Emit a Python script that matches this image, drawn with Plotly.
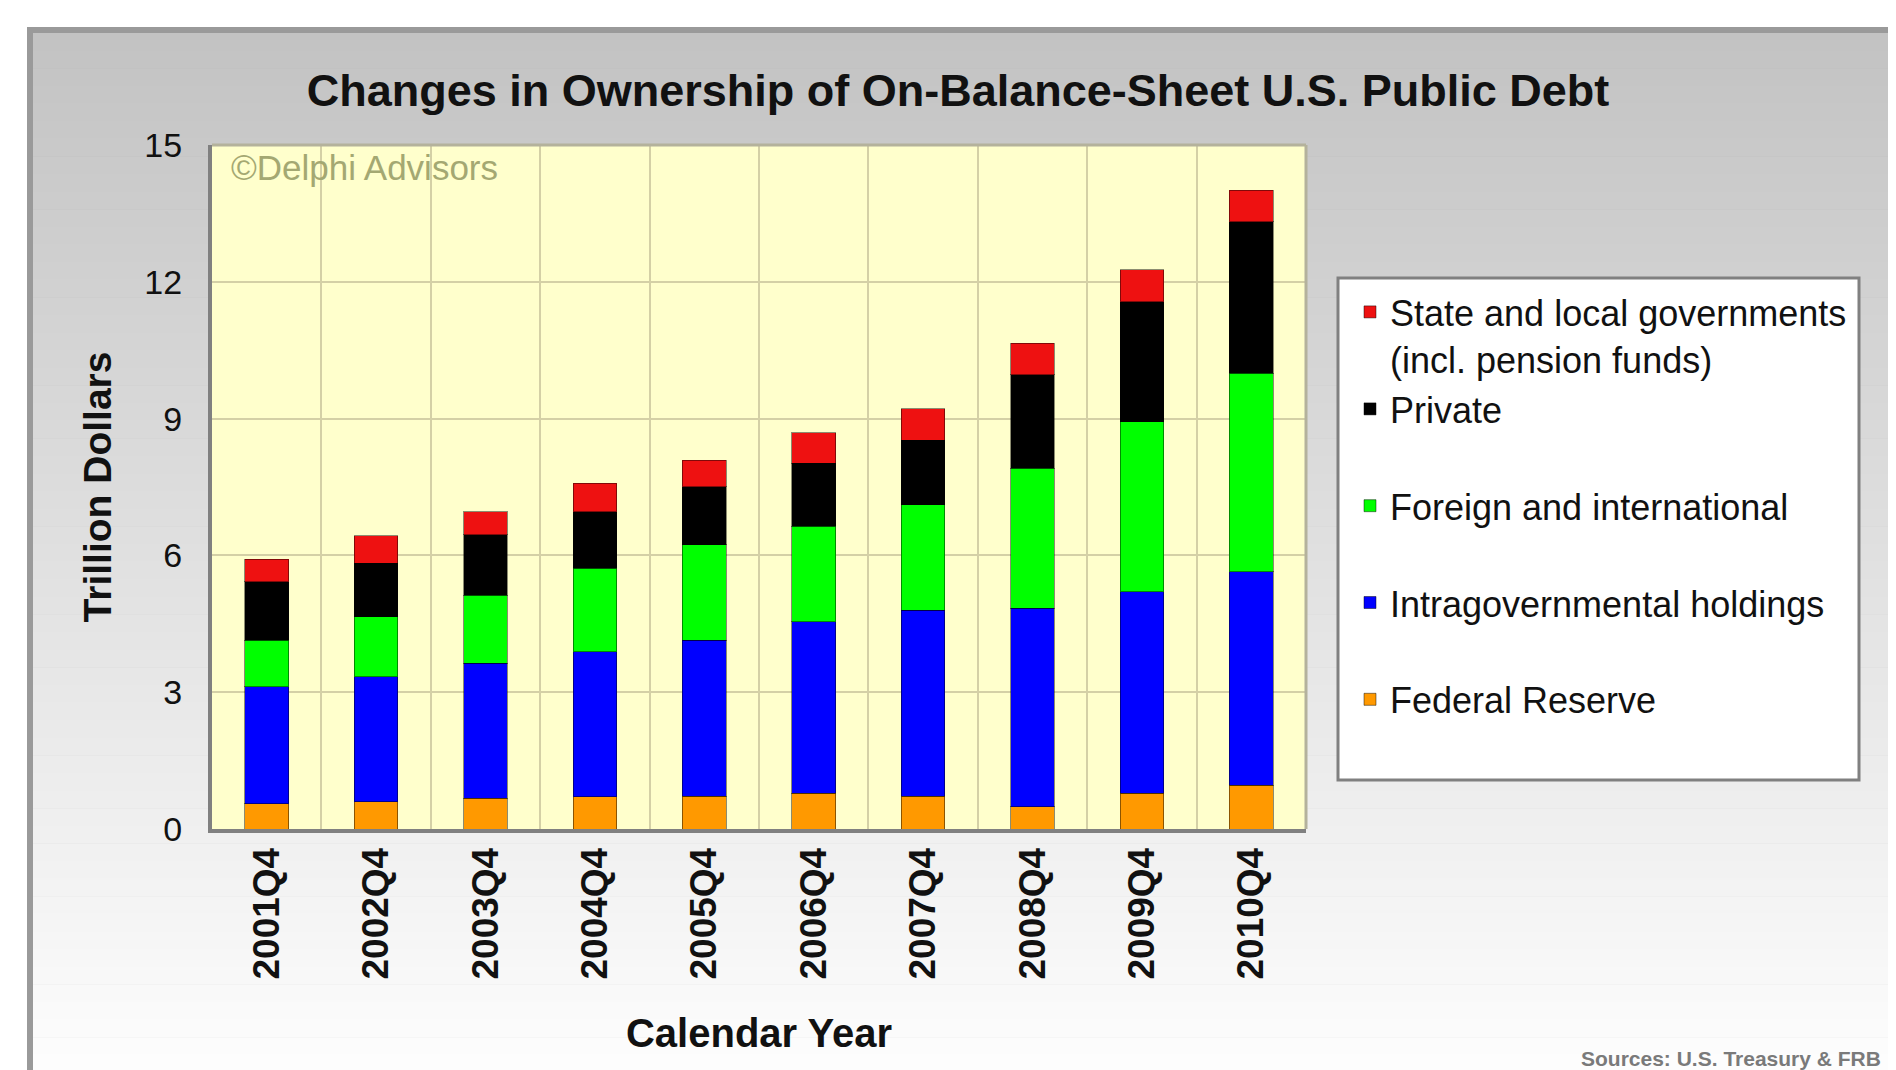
import plotly.graph_objects as go

categories = ["2001Q4", "2002Q4", "2003Q4", "2004Q4", "2005Q4",
              "2006Q4", "2007Q4", "2008Q4", "2009Q4", "2010Q4"]

federal_reserve = [0.55, 0.60, 0.67, 0.71, 0.72, 0.78, 0.72, 0.49, 0.78, 0.96]
intragovernmental = [2.57, 2.74, 2.96, 3.18, 3.42, 3.77, 4.08, 4.35, 4.42, 4.68]
foreign_intl = [1.02, 1.32, 1.50, 1.83, 2.09, 2.09, 2.31, 3.07, 3.73, 4.35]
private = [1.28, 1.17, 1.32, 1.24, 1.28, 1.38, 1.42, 2.05, 2.63, 3.33]
state_local = [0.50, 0.60, 0.51, 0.62, 0.58, 0.67, 0.69, 0.69, 0.70, 0.69]

series = [
    ("Federal Reserve", federal_reserve, "#ff9900", "legend2"),
    ("Intragovernmental holdings", intragovernmental, "#0000ff", "legend2"),
    ("Foreign and international", foreign_intl, "#00ff00", "legend2"),
    ("Private", private, "#000000", "legend2"),
    ("State and local governments<br>(incl. pension funds)", state_local, "#ee1111", "legend"),
]

# the page body adds an 8px margin; positions below are in screen pixels
OFF = 8
W, H = 1896 - OFF, 1070 - OFF
FONT = "Liberation Sans, Arial, sans-serif"

L, R, T, B = 212, 1306, 145, 829  # plot area, screen pixels
PW, PH = R - L, B - T


def px(x):
    return (x - L) / PW


def py(y):
    return (B - y) / PH


fig = go.Figure()
n_series = len(series)
for i, (name, vals, col, leg) in enumerate(series):
    fig.add_trace(go.Bar(
        x=categories, y=vals, name=name, legendgroup=f"g{i}",
        legendrank=n_series - i, legend=leg, showlegend=True,
        marker=dict(color=col, line=dict(color="rgba(0,0,0,0.45)", width=1)),
    ))

shapes = []
# panel frame
shapes.append(dict(type="rect", xref="paper", yref="paper", layer="below",
                   x0=px(27), x1=px(1896 + 20), y0=py(1070 + 20), y1=py(27),
                   fillcolor="#9a9a9a", line=dict(width=0)))
# panel vertical gradient
n = 60
top, bot = 33, 1070 + 20
for k in range(n):
    y0 = top + (bot - top) * k / n
    y1 = top + (bot - top) * (k + 1) / n
    t = (k + 0.5) / n
    c = int(round(195 + (254 - 195) * t))
    shapes.append(dict(type="rect", xref="paper", yref="paper", layer="below",
                       x0=px(33), x1=px(1896 + 20), y0=py(y1 + 0.5), y1=py(y0),
                       fillcolor=f"rgb({c},{c},{c})", line=dict(width=0)))
# plot background
shapes.append(dict(type="rect", xref="paper", yref="paper", layer="below",
                   x0=0, x1=1, y0=0, y1=1, fillcolor="#ffffcc", line=dict(width=0)))
# top / right frame of plot
shapes.append(dict(type="line", xref="paper", yref="paper", x0=0, x1=1, y0=1, y1=1,
                   line=dict(color="#b4b29c", width=3)))
shapes.append(dict(type="line", xref="paper", yref="paper", x0=1, x1=1, y0=0, y1=1,
                   line=dict(color="#b4b29c", width=3)))
# legend box
shapes.append(dict(type="rect", xref="paper", yref="paper", layer="below",
                   x0=px(1338), x1=px(1859), y0=py(780), y1=py(278),
                   fillcolor="#ffffff", line=dict(color="#808080", width=3)))

legend_font = dict(size=36, color="#111111", family=FONT)

fig.update_layout(
    width=W, height=H,
    margin=dict(l=L - OFF, r=W - (R - OFF), t=T - OFF, b=H - (B - OFF), pad=0),
    paper_bgcolor="#ffffff",
    plot_bgcolor="rgba(0,0,0,0)",
    barmode="stack",
    bargap=0.6,
    showlegend=True,
    font=dict(family=FONT, color="#111111"),
    title=dict(text="Changes in Ownership of On-Balance-Sheet U.S. Public Debt",
               x=(958 - OFF) / W, xanchor="center", y=1 - (90 - OFF) / H, yanchor="middle",
               xref="container", yref="container",
               font=dict(size=45, weight="bold", color="#111111", family=FONT)),
    xaxis=dict(
        type="category", tickson="boundaries", showgrid=True,
        gridcolor="#d4d0a6", gridwidth=2,
        showline=True, linecolor="#808080", linewidth=4,
        ticks="", tickangle=-90,
        tickfont=dict(size=37, weight="bold", color="#111111", family=FONT),
        title=dict(text="Calendar Year", standoff=42,
                   font=dict(size=40, weight="bold", color="#111111", family=FONT)),
    ),
    yaxis=dict(
        range=[0, 15], tick0=0, dtick=3, showgrid=True,
        gridcolor="#d4d0a6", gridwidth=2, zeroline=False,
        showline=True, linecolor="#808080", linewidth=4,
        ticks="", ticklabelstandoff=19,
        tickfont=dict(size=34, color="#111111", family=FONT),
        title=dict(text="Trillion Dollars", standoff=22,
                   font=dict(size=39, weight="bold", color="#111111", family=FONT)),
    ),
    legend=dict(
        x=px(1350), xanchor="left", y=py(282), yanchor="top",
        bgcolor="rgba(0,0,0,0)", borderwidth=0, valign="top",
        font=legend_font,
    ),
    legend2=dict(
        x=px(1350), xanchor="left", y=py(379), yanchor="top",
        bgcolor="rgba(0,0,0,0)", borderwidth=0, valign="top",
        traceorder="grouped", tracegroupgap=47,
        font=legend_font,
    ),
    shapes=shapes,
    annotations=[
        dict(text="\u00a9Delphi Advisors", xref="paper", yref="paper",
             x=px(229), y=py(167), xanchor="left", yanchor="middle", showarrow=False,
             font=dict(size=35, color="#a4a872", family=FONT)),
        dict(text="<b>Sources: U.S. Treasury & FRB</b>", xref="paper", yref="paper",
             x=px(1883), y=py(1058), xanchor="right", yanchor="middle", showarrow=False,
             font=dict(size=21, color="#7a7a7a", family=FONT)),
    ],
)

fig.write_html("out.html")
